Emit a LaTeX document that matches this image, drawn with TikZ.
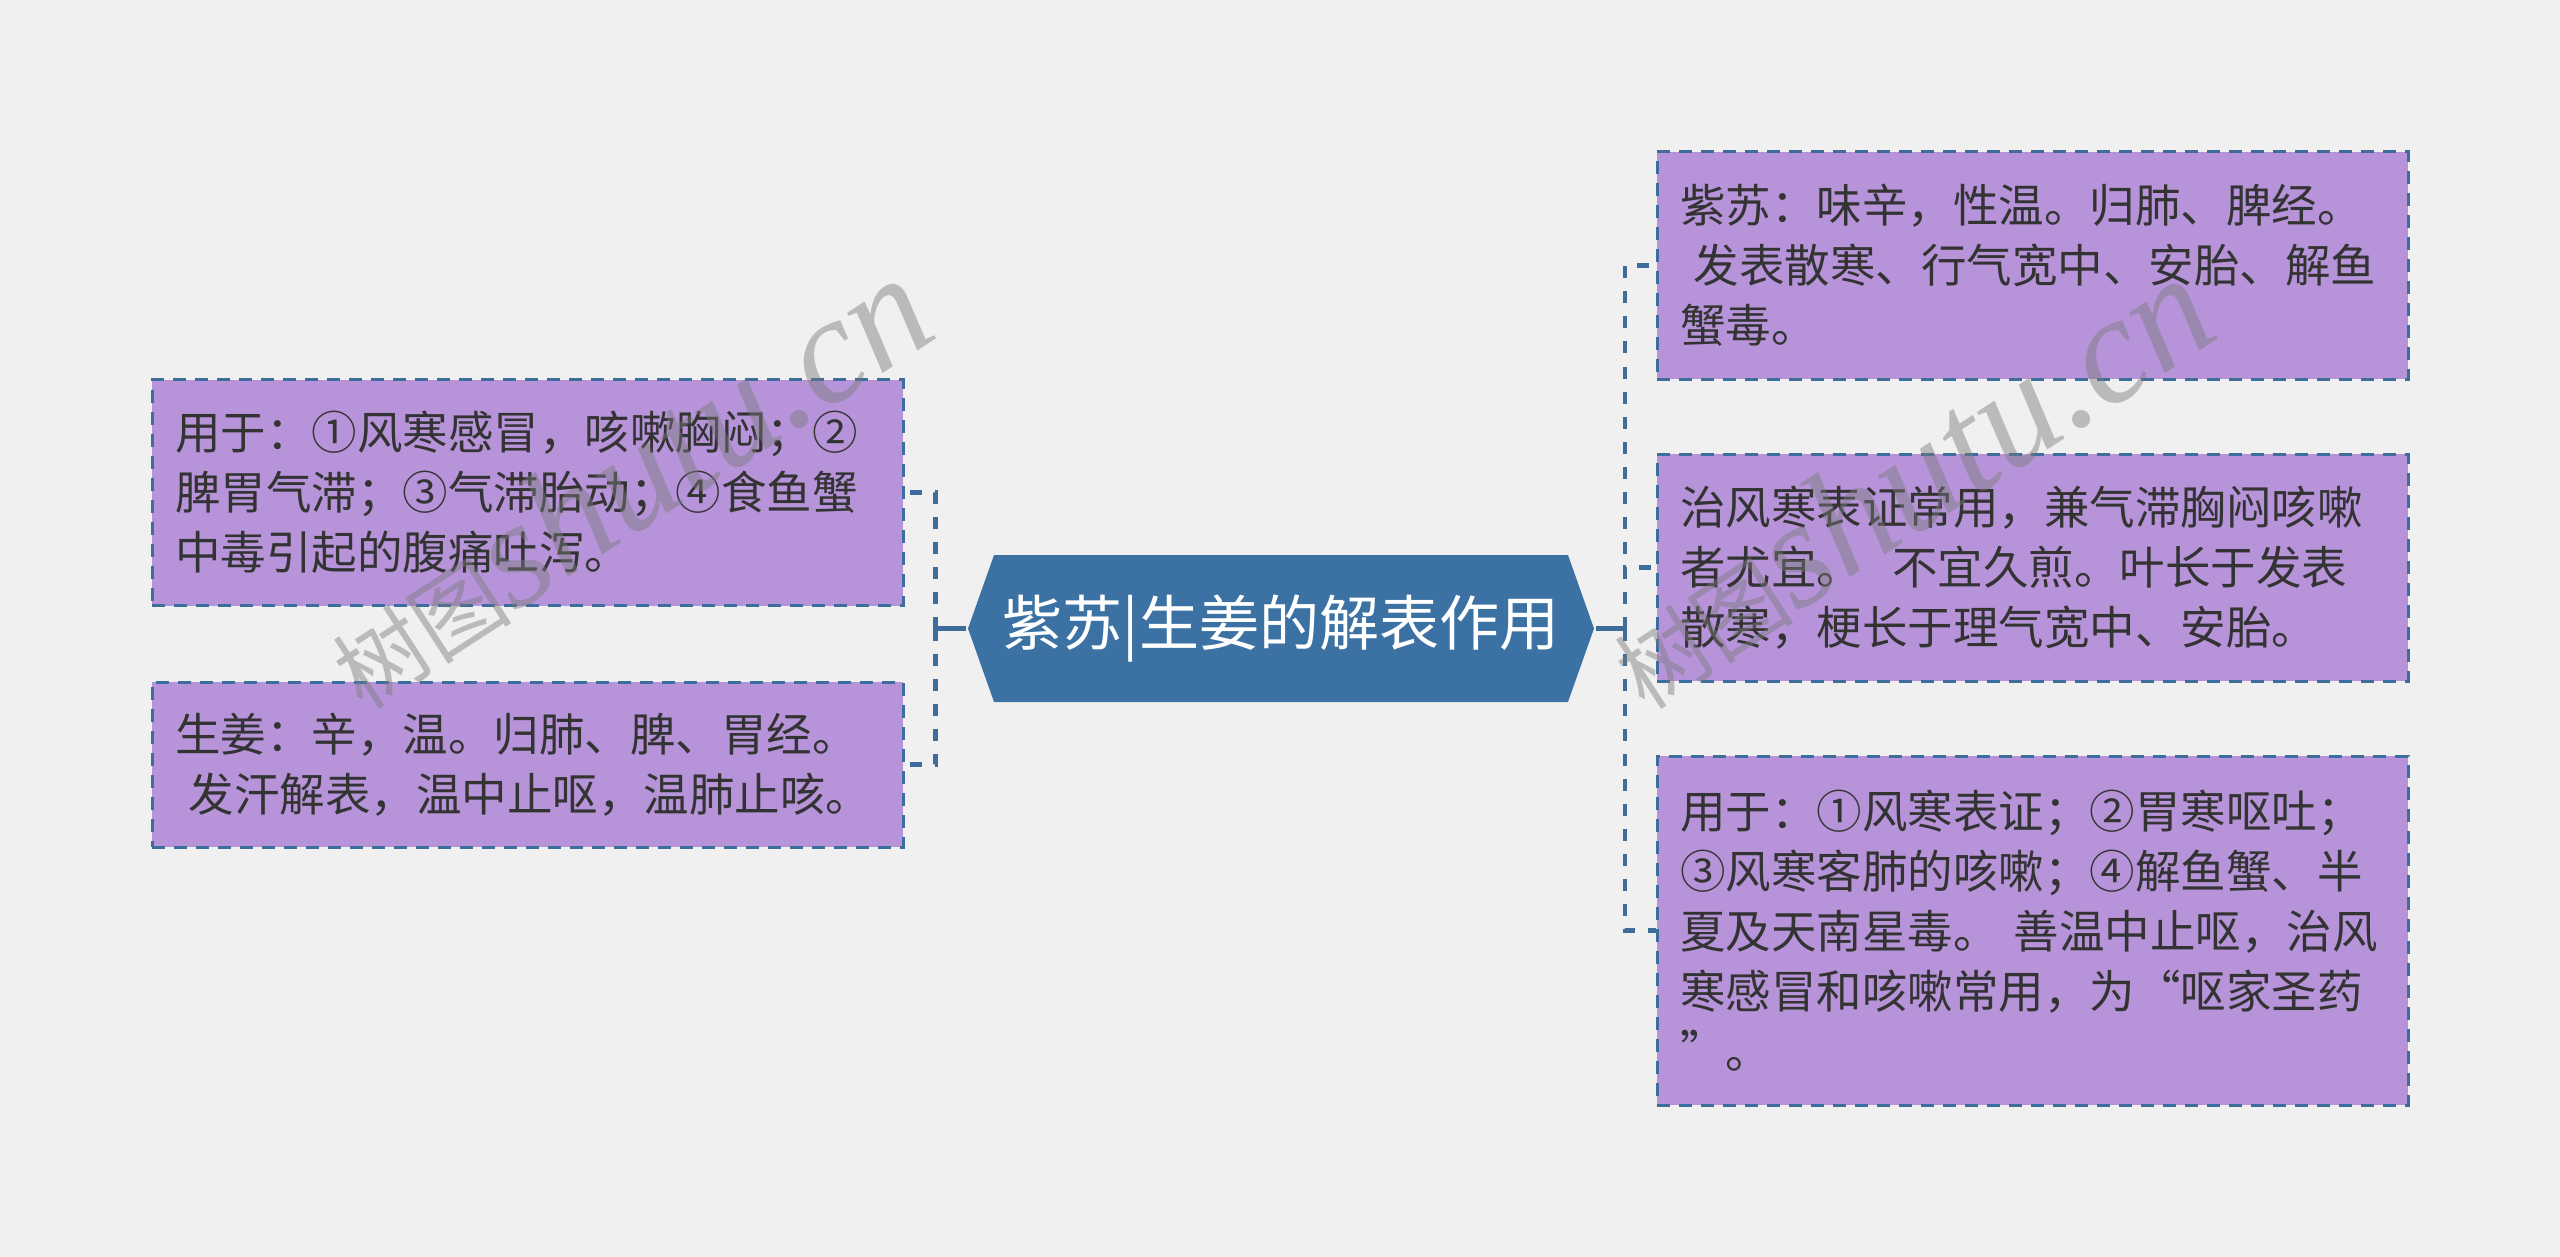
\documentclass[tikz,border=0pt]{standalone}
\usepackage{fontspec}
\setmainfont{Noto Sans CJK SC}
\newfontfamily\wmlatin{Liberation Serif}
\usetikzlibrary{shapes.symbols}
\definecolor{cbg}{HTML}{F0F0F0}
\definecolor{croot}{HTML}{3C72A3}
\definecolor{cedge}{HTML}{3D6D9B}
\definecolor{cleaf}{HTML}{B794D9}
\definecolor{ctext}{HTML}{333333}
\definecolor{cwm}{HTML}{7A7A7A}
\tikzset{
  every picture/.style={line width=3pt},
  root/.style={signal, signal to=west and east, signal pointer angle=141, fill=croot, text=white,
    minimum width=626pt, minimum height=147pt, inner sep=0pt, font=\fontsize{60}{72}\selectfont},
  leaf/.style={draw=cedge, fill=cleaf, dash pattern=on 13pt off 9pt, text=ctext, align=left,
    inner xsep=23pt, inner ysep=0pt, text width=705pt, minimum height=#1, font=\fontsize{45.5}{60}\selectfont},
  stem/.style={draw=cedge, line width=4.5pt},
  branch/.style={draw=cedge, line width=4.5pt, dash pattern=on 12pt off 13pt},
  wmark/.style={text=cwm, text opacity=0.45, anchor=base west, rotate=33, inner sep=0pt, font=\fontsize{90}{90}\selectfont},
}
\begin{document}
\begin{tikzpicture}[x=1pt, y=-1pt]
  \fill[cbg] (0,0) rectangle (2560,1257);

  % centre
  \node[root] (root) at (1281,628.5) {紫苏|生姜的解表作用};
  \coordinate (lj) at (935.5,628.5);
  \coordinate (rj) at (1625,628.5);

  % left
  \node[leaf=226pt] (l1) at (527.5,492.5) {用于：①风寒感冒，咳嗽胸闷；②\\脾胃气滞；③气滞胎动；④食鱼蟹\\中毒引起的腹痛吐泻。};
  \node[leaf=165pt] (l2) at (527.5,764.5) {生姜：辛，温。归肺、脾、胃经。\\\hspace*{0.3em}发汗解表，温中止呕，温肺止咳。};

  % right
  \node[leaf=227pt] (r1) at (2032.5,265.5) {紫苏：味辛，性温。归肺、脾经。\\\hspace*{0.3em}发表散寒、行气宽中、安胎、解鱼\\蟹毒。};
  \node[leaf=227pt] (r2) at (2032.5,567.5) {治风寒表证常用，兼气滞胸闷咳嗽\\者尤宜。\ \ 不宜久煎。叶长于发表\\散寒，梗长于理气宽中、安胎。};
  \node[leaf=349pt] (r3) at (2032.5,930.5) {用于：①风寒表证；②胃寒呕吐；\\③风寒客肺的咳嗽；④解鱼蟹、半\\夏及天南星毒。 善温中止呕，治风\\寒感冒和咳嗽常用，为“呕家圣药\\”。};

  \draw[stem] (root.west) -- (lj);
  \draw[stem] (root.east) -- (rj);
  \foreach \c in {l1, l2} \draw[branch] (lj) |- (\c.east);
  \foreach \c in {r1, r2, r3} \draw[branch] (rj) |- (\c.west);

  % watermark
  \node[wmark] (w1) at (362,712) {树图{\wmlatin\itshape\fontsize{152}{152}\selectfont shutu.cn}};
  \node[wmark] (w2) at (1644,712) {树图{\wmlatin\itshape\fontsize{152}{152}\selectfont shutu.cn}};
\end{tikzpicture}
\end{document}
